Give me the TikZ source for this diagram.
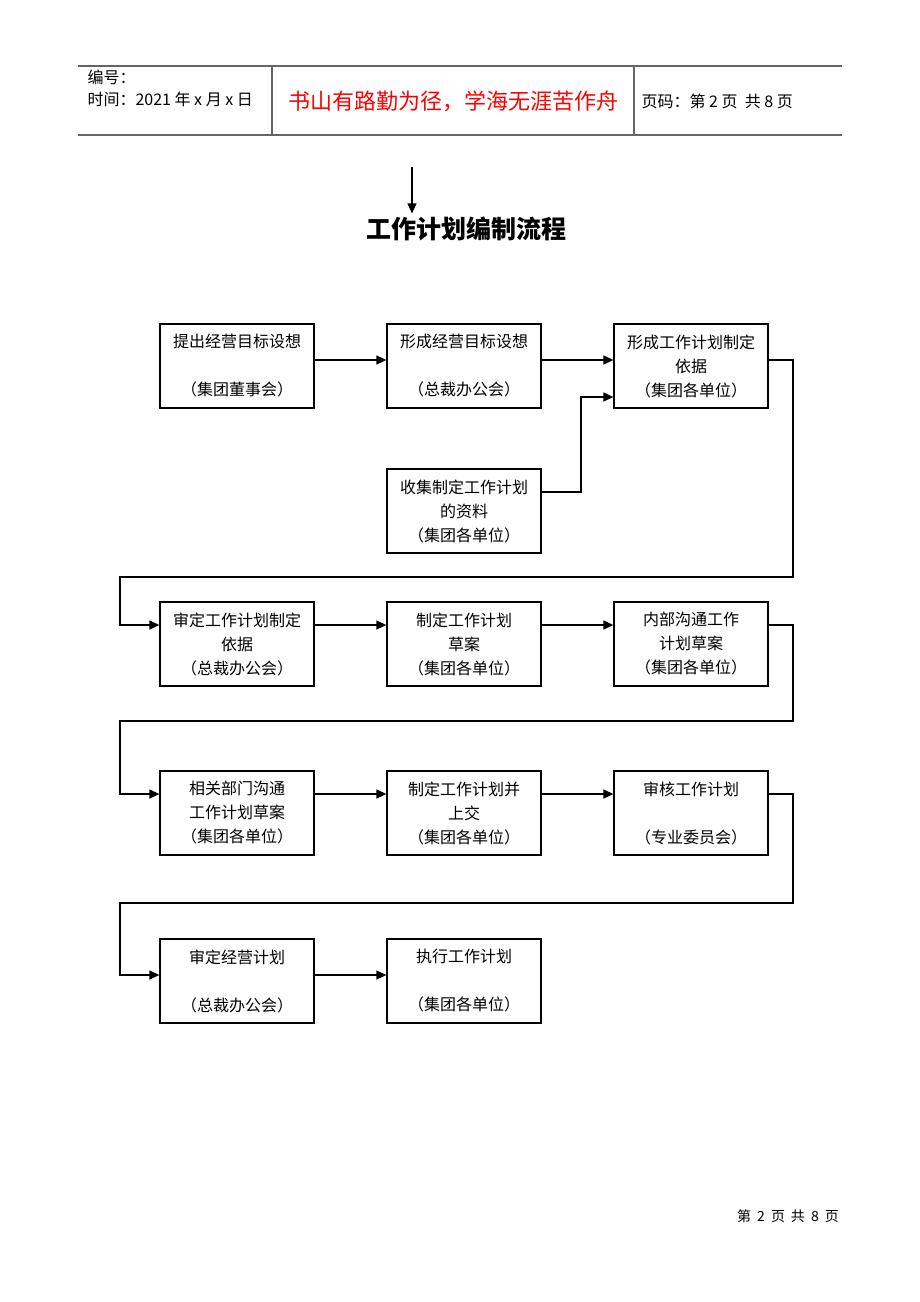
\documentclass[tikz,border=0pt]{standalone}
\usepackage{fontspec}
\setmainfont{Noto Sans CJK SC}
\usepackage{tikz}
\usetikzlibrary{arrows.meta}

\begin{document}
\begin{tikzpicture}[x=1pt, y=-1pt,
        box/.style = {draw, line width=1.3pt, minimum width=154pt, minimum height=84pt,
                      inner sep=0pt, align=center, font=\fontsize{16}{24}\selectfont},
        arr/.style = {line width=1.3pt, -{Triangle[length=10pt, width=9pt]}},
        hline/.style = {draw=gray!80!black, line width=1.1pt}]
        \useasboundingbox[fill=white] (0,0) rectangle (920,1302);

        % header
        \draw[hline] (78,66) -- (842,66);
        \draw[hline] (78,135) -- (842,135);
        \draw[hline] (272,66) -- (272,135);
        \draw[hline] (634,66) -- (634,135);
        \node[anchor=west, font=\fontsize{16}{18}\selectfont] (num) at (84,77) {编号：};
        \node[anchor=west, font=\fontsize{16}{18}\selectfont] (date) at (84,99) {时间：2021 年 x 月 x 日};
        \node[text=red, font=\fontsize{22}{24}\selectfont] (motto) at (453,101) {书山有路勤为径，学海无涯苦作舟};
        \node[anchor=west, font=\fontsize{16}{18}\selectfont] (page) at (638,101) {页码：第 2 页\ \ 共 8 页};

        % title
        \node[font=\fontsize{25}{28}\selectfont\bfseries] (title) at (466,229) {工作计划编制流程};
        \coordinate (top) at (412,167);
        \draw[arr] (top) -- (top |- title.north);

        % boxes
        \node[box] (b1) at (237,366) {提出经营目标设想\\~\\（集团董事会）};
        \node[box] (b2) at (464,366) {形成经营目标设想\\~\\（总裁办公会）};
        \node[box] (b3) at (691,366) {形成工作计划制定\\依据\\（集团各单位）};
        \node[box] (c1) at (464,511) {收集制定工作计划\\的资料\\（集团各单位）};
        \node[box] (b4) at (237,644) {审定工作计划制定\\依据\\（总裁办公会）};
        \node[box] (b5) at (464,644) {制定工作计划\\草案\\（集团各单位）};
        \node[box] (b6) at (691,644) {内部沟通工作\\计划草案\\（集团各单位）};
        \node[box] (b7) at (237,813) {相关部门沟通\\工作计划草案\\（集团各单位）};
        \node[box] (b8) at (464,813) {制定工作计划并\\上交\\（集团各单位）};
        \node[box] (b9) at (691,813) {审核工作计划\\~\\（专业委员会）};
        \node[box] (b10) at (237,981) {审定经营计划\\~\\（总裁办公会）};
        \node[box] (b11) at (464,981) {执行工作计划\\~\\（集团各单位）};

        % turning points
        \coordinate (r1) at (793,577);
        \coordinate (l1) at (120,577);
        \coordinate (r2) at (793,721);
        \coordinate (l2) at (120,721);
        \coordinate (r3) at (793,903);
        \coordinate (l3) at (120,903);
        \coordinate (k1) at (581,492);

        % connectors
        \draw[arr] ([yshift=6pt]b1.east) -- ([yshift=6pt]b2.west);
        \draw[arr] ([yshift=6pt]b2.east) -- ([yshift=6pt]b3.west);
        \draw[arr] ([yshift=19pt]c1.east) -- ([yshift=19pt]c1.east -| k1) |- ([yshift=-31pt]b3.west);
        \draw[arr] ([yshift=6pt]b3.east) -| (r1) -- (l1) |- ([yshift=19pt]b4.west);
        \draw[arr] ([yshift=19pt]b4.east) -- ([yshift=19pt]b5.west);
        \draw[arr] ([yshift=19pt]b5.east) -- ([yshift=19pt]b6.west);
        \draw[arr] ([yshift=19pt]b6.east) -| (r2) -- (l2) |- ([yshift=19pt]b7.west);
        \draw[arr] ([yshift=19pt]b7.east) -- ([yshift=19pt]b8.west);
        \draw[arr] ([yshift=19pt]b8.east) -- ([yshift=19pt]b9.west);
        \draw[arr] ([yshift=19pt]b9.east) -| (r3) -- (l3) |- ([yshift=6pt]b10.west);
        \draw[arr] ([yshift=6pt]b10.east) -- ([yshift=6pt]b11.west);

        % footer
        \node[font=\fontsize{14}{16}\selectfont] (foot) at (788,1216)
            {第\hspace{6pt}2\hspace{6pt}页\hspace{6pt}共\hspace{6pt}8\hspace{6pt}页};
\end{tikzpicture}
\end{document}
